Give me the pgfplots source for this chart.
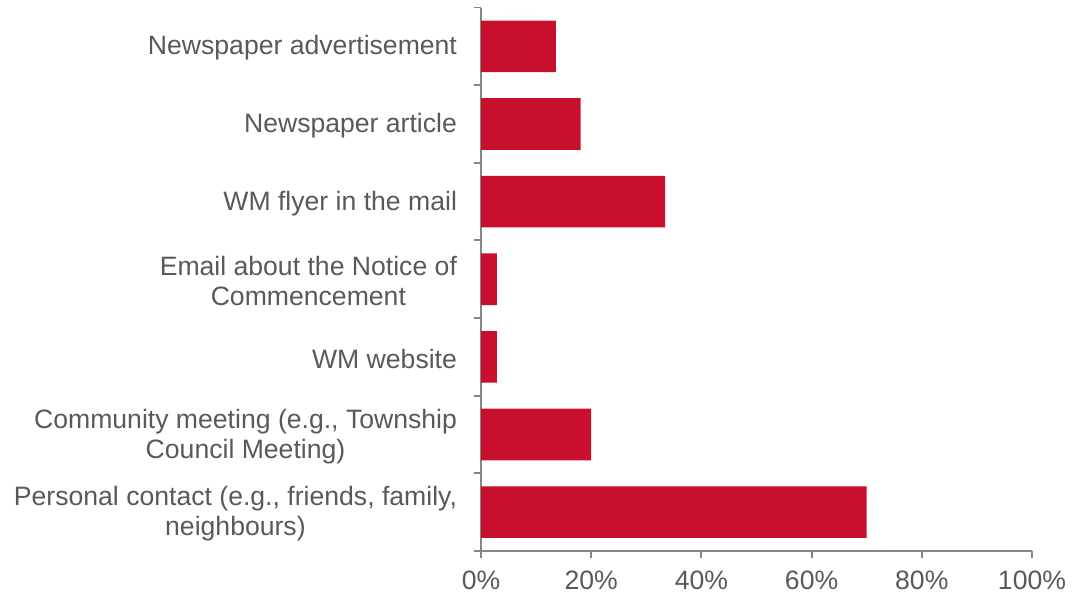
\documentclass[border=0pt]{standalone}
\usepackage{pgfplots}
\pgfplotsset{compat=1.18}
\usepackage{fontspec}
\setmainfont{Liberation Sans}
\definecolor{barred}{RGB}{200,16,46}
\definecolor{txtgrey}{RGB}{89,89,89}
\definecolor{axgrey}{RGB}{134,134,134}
\begin{document}
\begin{tikzpicture}
\path[use as bounding box] (0,0) rectangle (538bp,298bp);
\begin{axis}[
  at={(240.5bp,22.5bp)}, anchor=south west,
  scale only axis, width=275.5bp, height=271.75bp,
  xbar, bar width=0.665,
  xmin=0, xmax=100, ymin=-0.5, ymax=6.5,
  axis x line*=bottom, axis y line*=left,
  axis line style={-, axgrey, line width=1pt},
  xtick={0,20,40,60,80,100},
  xticklabels={0\%,20\%,40\%,60\%,80\%,100\%},
  ytick={0,1,2,3,4,5,6},
  yticklabels={{Personal contact (e.g., friends, family,\\neighbours)},
    {Community meeting (e.g., Township\\Council Meeting)},
    {WM website},
    {Email about the Notice of\\Commencement},
    {WM flyer in the mail},
    {Newspaper article},
    {Newspaper advertisement}},
  major y tick style={draw=none},
  minor ytick={-0.5,0.5,1.5,2.5,3.5,4.5,5.5,6.5},
  minor y tick style={axgrey, line width=1pt},
  major x tick style={axgrey, line width=1pt},
  tick align=outside,
  major tick length=3.5bp, minor tick length=3.5bp,
  ticklabel style={font=\fontsize{13.3bp}{15bp}\selectfont, text=txtgrey},
  yticklabel style={align=center, xshift=-5bp, yshift=-0.8bp},
  xticklabel style={yshift=-3bp},
]
\addplot[fill=barred, draw=none] coordinates {
  (70.0,0) (20.0,1) (2.9,2) (2.9,3) (33.4,4) (18.1,5) (13.6,6)
};
\end{axis}
\end{tikzpicture}
\end{document}
